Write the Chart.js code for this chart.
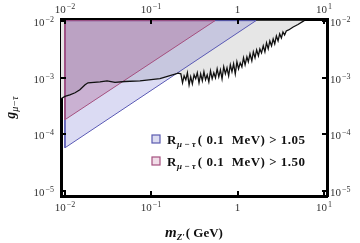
<html>
<head>
<script src="https://cdn.jsdelivr.net/npm/chart.js@4"></script>
<style>
  body { margin: 0; background: #fff; }
</style>
</head>
<body>
<canvas id="myChart" width="360" height="243"></canvas>
<script>
// black bound (m_Z' in GeV, coupling g)
var lineMass = [0.009, 0.0100, 0.0114, 0.0131, 0.0149, 0.0171, 0.0185, 0.0255, 0.0307, 0.038, 0.0495, 0.074, 0.126, 0.205,
  0.22, 0.23, 0.24, 0.251, 0.262, 0.274, 0.286, 0.299, 0.313, 0.327,
  0.341, 0.357, 0.373, 0.39, 0.407, 0.425, 0.444, 0.464, 0.485, 0.507,
  0.530, 0.554, 0.579, 0.605, 0.632, 0.660, 0.690, 0.721, 0.753, 0.787,
  0.823, 0.860, 0.898, 0.939, 0.981, 1.025, 1.071, 1.12, 1.17, 1.22,
  1.28, 1.33, 1.39, 1.46, 1.52, 1.59, 1.66, 1.74, 1.81, 1.89,
  1.98, 2.07, 2.16, 2.26, 2.36, 2.47, 2.58, 2.69, 2.81, 2.94,
  3.07, 3.21, 3.35, 3.50, 3.66, 3.9, 4.4, 5.0, 5.9];
var lineCoupling = [4.23e-4, 4.65e-4, 4.97e-4, 5.39e-4, 6.08e-4, 7.45e-4, 8.07e-4, 8.41e-4, 8.75e-4, 8.24e-4, 8.51e-4, 8.75e-4, 9.6e-4, 1.19e-3,
  1.16e-3, 8.07e-4, 1.07e-3, 9.11e-4, 1.21e-3, 7.45e-4, 1.03e-3, 7.75e-4, 1.115e-3, 9.49e-4,
  1.21e-3, 8.07e-4, 1.16e-3, 8.75e-4, 1.26e-3, 9.11e-4, 1.115e-3, 8.41e-4, 1.31e-3, 9.49e-4,
  1.21e-3, 9.88e-4, 1.42e-3, 1.03e-3, 1.36e-3, 9.49e-4, 1.54e-3, 1.16e-3, 1.48e-3, 1.07e-3,
  1.67e-3, 1.26e-3, 1.74e-3, 1.16e-3, 1.89e-3, 1.42e-3, 1.81e-3, 1.54e-3, 2.22e-3, 1.67e-3,
  2.31e-3, 1.89e-3, 2.60e-3, 1.96e-3, 2.82e-3, 2.22e-3, 3.06e-3, 2.40e-3, 3.19e-3, 2.71e-3,
  3.60e-3, 2.82e-3, 4.06e-3, 3.19e-3, 4.40e-3, 3.60e-3, 4.77e-3, 3.90e-3, 5.39e-3, 4.40e-3,
  5.84e-3, 4.97e-3, 6.33e-3, 5.61e-3, 6.60e-3, 6.87e-3, 7.75e-3, 8.58e-3, 1.0e-2];

// R_{mu-tau}(0.1 MeV) > 1.05
var blueMass = [0.01, 1.63, 0.01, 0.01];
var blueCoupling = [5.8e-5, 1e-2, 1e-2, 5.8e-5];
// R_{mu-tau}(0.1 MeV) > 1.50
var pinkMass = [0.01, 0.547, 0.01, 0.01];
var pinkCoupling = [1.81e-4, 1e-2, 1e-2, 1.81e-4];
// grey region closes on g = 1e-2
var greyTopMass = [0.009];
var greyTopCoupling = [1e-2];

var xTicks = [0.01, 0.1, 1, 10];
var xTickLabels = ['10^\u22122', '10^\u22121', '1', '10^1'];
var yTicks = [1e-5, 1e-4, 1e-3, 1e-2];
var yTickLabels = ['10^\u22125', '10^\u22124', '10^\u22123', '10^\u22122'];
var legendValues = ['1.05', '1.50'];

var xMin = 0.009, xMax = 10.84, yMin = 8.24e-6, yMax = 1.07e-2;

function pts(mass, coup) {
  return mass.map(function (m, i) { return { x: m, y: coup[i] }; });
}

var greyPts = pts(lineMass, lineCoupling).concat(pts(greyTopMass, greyTopCoupling));
greyPts.push({ x: lineMass[0], y: lineCoupling[0] });

var SERIF = '"Liberation Serif", "DejaVu Serif", serif';

function drawRuns(ctx, runs, x, y, measureOnly) {
  var w = 0;
  runs.forEach(function (r) {
    ctx.font = r.font + ' ' + SERIF;
    ctx.letterSpacing = r.ls || '0px';
    if (!measureOnly) ctx.fillText(r.t, x + w, y + (r.dy || 0));
    w += ctx.measureText(r.t).width + (r.gap || 0);
  });
  ctx.letterSpacing = '0px';
  return w;
}

function powRuns(label) {
  var p = label.split('^');
  var runs = [{ t: p[0], font: '11px', gap: 1 }];
  if (p[1]) runs.push({ t: p[1], font: '8px', dy: -4.5 });
  return runs;
}

function drawLabel(ctx, label, x, y, align) {
  var runs = powRuns(label);
  var w = drawRuns(ctx, runs, 0, 0, true);
  var x0 = align === 'center' ? x - w / 2 : (align === 'right' ? x - w : x);
  drawRuns(ctx, runs, x0, y);
}

var framePlugin = {
  id: 'framePlugin',
  afterDraw: function (chart) {
    var ctx = chart.ctx, a = chart.chartArea;
    var sx = chart.scales.x, sy = chart.scales.y;
    ctx.save();
    ctx.textAlign = 'left';
    ctx.textBaseline = 'alphabetic';
    ctx.strokeStyle = '#000';
    ctx.lineWidth = 2;

    xTicks.forEach(function (v, i) {
      var px = Math.round(sx.getPixelForValue(v));
      ctx.beginPath();
      ctx.moveTo(px, a.bottom); ctx.lineTo(px, a.bottom - 5);
      ctx.moveTo(px, a.top); ctx.lineTo(px, a.top + 5);
      ctx.stroke();
      ctx.fillStyle = '#333';
      drawLabel(ctx, xTickLabels[i], px, 211, 'center');
      drawLabel(ctx, xTickLabels[i], px, 13, 'center');
    });
    yTicks.forEach(function (v, i) {
      var py = Math.round(sy.getPixelForValue(v));
      ctx.beginPath();
      ctx.moveTo(a.left, py); ctx.lineTo(a.left + 5, py);
      ctx.moveTo(a.right, py); ctx.lineTo(a.right - 5, py);
      ctx.stroke();
      ctx.fillStyle = '#333';
      drawLabel(ctx, yTickLabels[i], 54, py + 5, 'right');
      drawLabel(ctx, yTickLabels[i], 330, py + 5, 'left');
    });

    // axis titles
    ctx.fillStyle = '#111';
    var xt = [
      { t: 'm', font: 'italic bold 15px' },
      { t: 'Z\u2032', font: 'italic bold 9px', dy: 3, gap: 1 },
      { t: '( GeV)', font: 'bold 13px' }
    ];
    var wx = drawRuns(ctx, xt, 0, 0, true);
    drawRuns(ctx, xt, (a.left + a.right) / 2 - wx / 2, 237);

    var yt = [
      { t: 'g', font: 'italic bold 14px' },
      { t: '\u03bc\u2212\u03c4', font: 'italic 10px', dy: 3 }
    ];
    var wy = drawRuns(ctx, yt, 0, 0, true);
    ctx.save();
    ctx.translate(15, (a.top + a.bottom) / 2 + wy / 2);
    ctx.rotate(-Math.PI / 2);
    drawRuns(ctx, yt, 0, 0);
    ctx.restore();

    // legend
    var boxes = [
      { stroke: '#5a5ab0', fill: '#dcdcf1' },
      { stroke: '#a5507f', fill: '#f1dde8' }
    ];
    legendValues.forEach(function (val, i) {
      var cy = 139 + i * 22;
      ctx.fillStyle = boxes[i].fill;
      ctx.fillRect(152, cy - 4, 8, 8);
      ctx.strokeStyle = boxes[i].stroke;
      ctx.lineWidth = 1.2;
      ctx.strokeRect(152, cy - 4, 8, 8);
      ctx.fillStyle = '#111';
      drawRuns(ctx, [
        { t: 'R', font: 'bold 13px', gap: 0.5 },
        { t: '\u03bc \u2212 \u03c4', font: 'italic bold 9px', dy: 3, gap: 2 },
        { t: '( 0.1  MeV) > ' + val, font: 'bold 13px', ls: '0.5px' }
      ], 167, cy + 4.5);
    });
    ctx.restore();
  }
};

function logAxis(pos, min, max, ticks, size) {
  var horiz = pos === 'bottom' || pos === 'top';
  return {
    type: 'logarithmic',
    position: pos,
    min: min,
    max: max,
    grid: { display: false },
    border: { display: true, width: 3, color: '#000' },
    ticks: { display: false },
    afterBuildTicks: function (s) { s.ticks = ticks.map(function (v) { return { value: v }; }); },
    afterFit: function (s) { if (horiz) s.height = size; else s.width = size; }
  };
}

var ctx = document.getElementById('myChart').getContext('2d');
var chart = new Chart(ctx, {
  type: 'line',
  data: {
    datasets: [{
      data: pts(lineMass, lineCoupling),
      borderColor: '#111',
      borderWidth: 1.3,
      fill: false,
      xAxisID: 'x', yAxisID: 'y'
    }, {
      data: pts(pinkMass, pinkCoupling),
      borderColor: '#a5507f',
      borderWidth: 1,
      backgroundColor: 'rgba(150, 50, 110, 0.25)',
      fill: 'shape',
      xAxisID: 'x', yAxisID: 'y'
    }, {
      data: pts(blueMass, blueCoupling),
      borderColor: '#5a5ab5',
      borderWidth: 1,
      backgroundColor: 'rgba(90, 90, 200, 0.22)',
      fill: 'shape',
      xAxisID: 'x', yAxisID: 'y'
    }, {
      data: greyPts,
      borderWidth: 0,
      borderColor: 'rgba(0,0,0,0)',
      backgroundColor: '#e6e6e6',
      fill: 'shape',
      xAxisID: 'x', yAxisID: 'y'
    }]
  },
  options: {
    responsive: false,
    devicePixelRatio: 1,
    animation: false,
    events: [],
    elements: { point: { radius: 0 }, line: { tension: 0 } },
    layout: { padding: 0 },
    plugins: { legend: { display: false }, tooltip: { enabled: false } },
    scales: {
      x: logAxis('bottom', xMin, xMax, xTicks, 47),
      xTop: logAxis('top', xMin, xMax, xTicks, 19),
      y: logAxis('left', yMin, yMax, yTicks, 61),
      yRight: logAxis('right', yMin, yMax, yTicks, 33)
    }
  },
  plugins: [framePlugin]
});
</script>
</body>
</html>
